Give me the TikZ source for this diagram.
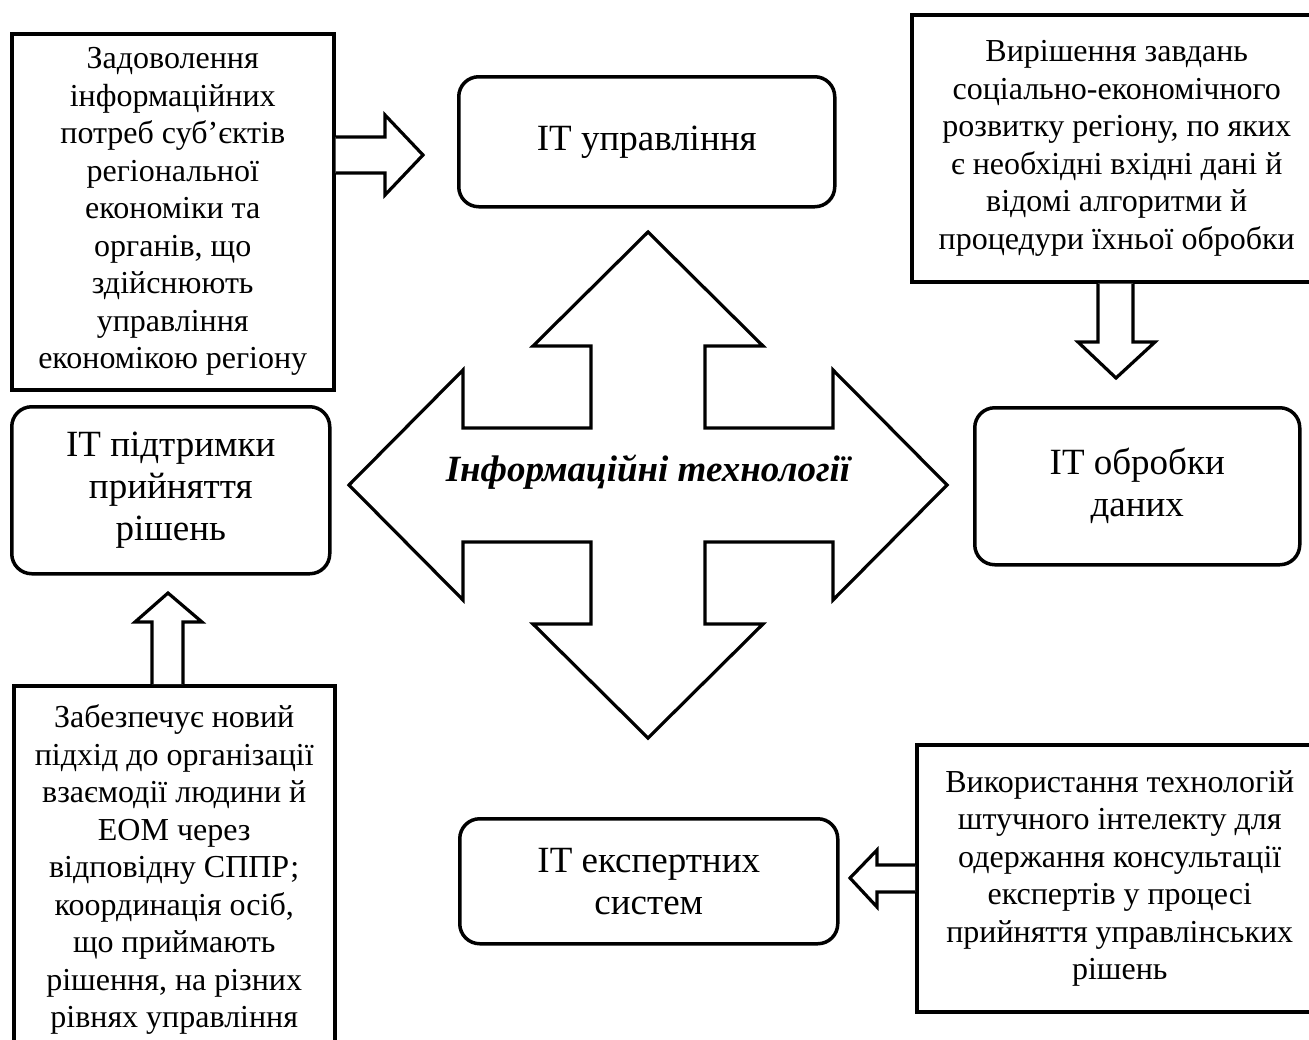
\documentclass[tikz,border=0pt]{standalone}
\usepackage{fontspec}
\setmainfont{Liberation Serif}
\begin{document}
\begin{tikzpicture}[x=1pt,y=-1pt,
  line width=3.5pt, line join=miter,
  note/.style={draw, rectangle, inner sep=0pt, align=center, anchor=north west,
    font=\fontsize{32}{37.5}\selectfont},
  itbox/.style={draw, rectangle, rounded corners=20pt, inner sep=0pt, align=center,
    anchor=north west, font=\fontsize{37}{42}\selectfont},
  blockarrow/.style={draw, fill=white, line width=3.2pt}]
\useasboundingbox (0,0) rectangle (1309,1039);
\clip (0,0) rectangle (1309,1039);

% descriptive boxes
\node[note, minimum width=322pt, minimum height=356pt] (need) at (10,32)
  {Задоволення\\інформаційних\\потреб суб’єктів\\регіональної\\економіки та\\органів, що\\здійснюють\\управління\\економікою регіону};
\node[note, minimum width=410pt, minimum height=267pt] (tasks) at (910,13)
  {Вирішення завдань\\соціально-економічного\\розвитку регіону, по яких\\є необхідні вхідні дані й\\відомі алгоритми й\\процедури їхньої обробки};
\node[note, minimum width=321pt, minimum height=368pt] (dss) at (12,684)
  {Забезпечує новий\\підхід до організації\\взаємодії людини й\\ЕОМ через\\відповідну СППР;\\координація осіб,\\що приймають\\рішення, на різних\\рівнях управління};
\node[note, minimum width=406pt, minimum height=267pt] (ai) at (915,743)
  {Використання технологій\\штучного інтелекту для\\одержання консультації\\експертів у процесі\\прийняття управлінських\\рішень};

% technology boxes
\node[itbox, minimum width=376pt, minimum height=130pt] (mgmt) at (457,75) {IT управління};
\node[itbox, minimum width=325pt, minimum height=157pt] (proc) at (973,406) {IT обробки\\даних};
\node[itbox, minimum width=318pt, minimum height=167pt] (supp) at (10,405) {IT підтримки\\прийняття\\рішень};
\node[itbox, minimum width=378pt, minimum height=125pt] (expert) at (458,817) {IT експертних\\систем};

% central four-way arrow
\coordinate (hub) at (648,485);
\draw[blockarrow, shift={(hub)}]
  (0,-253) -- (115,-139) -- (57,-139) -- (57,-57) -- (185,-57) -- (185,-115)
  -- (299,0) -- (185,115) -- (185,57) -- (57,57) -- (57,139) -- (115,139)
  -- (0,253) -- (-115,139) -- (-57,139) -- (-57,57) -- (-185,57) -- (-185,115)
  -- (-299,0) -- (-185,-115) -- (-185,-57) -- (-57,-57) -- (-57,-139) -- (-115,-139)
  -- cycle;
\node[font=\bfseries\itshape\fontsize{37}{42}\selectfont, anchor=base] (it) at (648,481)
  {Інформаційні технології};

% block arrows from the descriptions to the technologies
\draw[blockarrow] (need.east |- 0,137) -- (385,137) -- (385,115) -- (423,155)
  -- (385,195) -- (385,173) -- (need.east |- 0,173);
\draw[blockarrow] (tasks.south -| 1098,0) -- (1098,342) -- (1078,342) -- (1116,378)
  -- (1155,342) -- (1133,342) -- (tasks.south -| 1133,0);
\draw[blockarrow] (dss.north -| 152,0) -- (152,622) -- (135,622) -- (168,593)
  -- (202,622) -- (183,622) -- (dss.north -| 183,0);
\draw[blockarrow] (ai.west |- 0,865) -- (877,865) -- (877,850) -- (850,878)
  -- (877,907) -- (877,892) -- (ai.west |- 0,892);
\end{tikzpicture}
\end{document}
